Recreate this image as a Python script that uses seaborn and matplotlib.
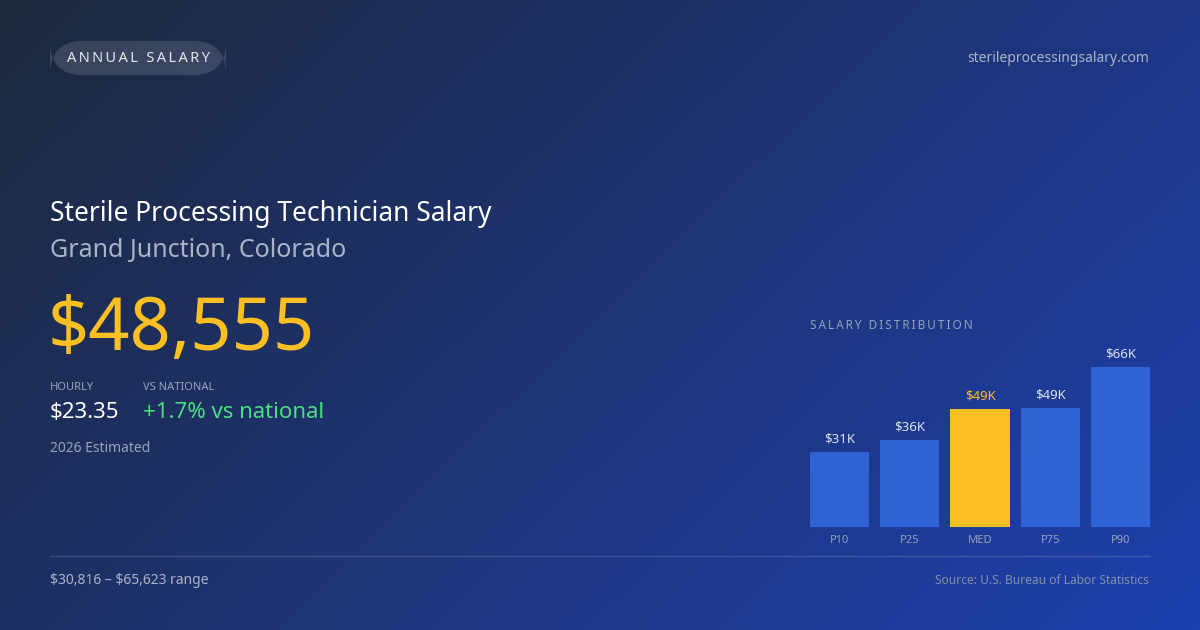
import matplotlib.pyplot as plt
import seaborn as sns
import numpy as np
import pandas as pd
from matplotlib.lines import Line2D
from matplotlib.patches import FancyBboxPatch

sns.set_style("white")
plt.rcParams['font.family'] = ['Noto Sans', 'DejaVu Sans']

# Datos
percentiles = ['P10', 'P25', 'MED', 'P75', 'P90']
salarios = [30816, 35700, 48555, 48800, 65623]
etiquetas = ['$31K', '$36K', '$49K', '$49K', '$66K']

W, H = 1200, 630
fig = plt.figure(figsize=(12, 6.3), dpi=100)

# Fondo degradado
bg = fig.add_axes([0, 0, 1, 1])
xx, yy = np.meshgrid(np.linspace(0, 1, 300), np.linspace(0, 1, 160))
t = np.clip(0.65 * xx + 0.35 * yy, 0, 1)
c0 = np.array([0x1d, 0x28, 0x3c]) / 255
c1 = np.array([0x1e, 0x40, 0xae]) / 255
img = c0[None, None, :] * (1 - t[..., None]) + c1[None, None, :] * t[..., None]
bg.imshow(img, aspect='auto', extent=[0, 1, 0, 1], origin='upper')
bg.axis('off')


def txt(x, y, s, **kw):
    fig.text(x / W, 1 - y / H, s, **kw)


def espaciado(s):
    return '\u2009'.join(s)


# Pastilla
fig.add_artist(FancyBboxPatch((50 / W, 1 - 75 / H), 176 / W, 34 / H,
                              boxstyle='round,pad=0,rounding_size=0.027',
                              transform=fig.transFigure, facecolor='#ffffff',
                              alpha=0.13, edgecolor='none', mutation_aspect=2))
txt(138, 58, espaciado('ANNUAL SALARY'), fontsize=10.5, color='#e2e8f0', va='center', ha='center')
txt(1149, 58, 'sterileprocessingsalary.com', fontsize=10, color='#aab4c6', ha='right', va='center')

txt(50, 214, 'Sterile Processing Technician Salary', fontsize=19, color='white', va='center')
txt(50, 251, 'Grand Junction, Colorado', fontsize=18, color='#aab4c6', va='center')
txt(48, 331, '$48,555', fontsize=52, color='#fbbf24', va='center')

txt(50, 388, 'HOURLY', fontsize=8, color='#94a3b8', va='center')
txt(143, 388, 'VS NATIONAL', fontsize=8, color='#94a3b8', va='center')
txt(50, 413, '$23.35', fontsize=16, color='white', va='center')
txt(143, 413, '+1.7% vs national', fontsize=16, color='#4ade80', va='center')
txt(50, 449, '2026 Estimated', fontsize=10, color='#94a3b8', va='center')

txt(810, 325, espaciado('SALARY DISTRIBUTION'), fontsize=8.5, color='#94a3b8', va='center')

# Barras
ax = fig.add_axes([810 / W, (H - 527) / H, 340 / W, 160 / H])
ax.patch.set_alpha(0)
df = pd.DataFrame({'p': percentiles, 's': salarios})
colores = ['#2f62d4', '#2f62d4', '#fbbf24', '#2f62d4', '#2f62d4']
sns.barplot(data=df, x='p', y='s', hue='p', palette=colores, width=0.84,
            legend=False, ax=ax, saturation=1, linewidth=0)
ax.set_xlim(-0.42, 4.42)
ax.set_ylim(0, max(salarios))
for i, (v, e) in enumerate(zip(salarios, etiquetas)):
    ax.text(i, v + 2500, e, ha='center', va='bottom', fontsize=9.5,
            color='#fbbf24' if i == 2 else '#dbe2ee')
ax.set_xticks(range(5))
ax.set_xticklabels(percentiles, fontsize=8, color='#94a3b8')
ax.tick_params(axis='x', length=0, pad=6)
ax.set_yticks([])
ax.set_xlabel('')
ax.set_ylabel('')
sns.despine(ax=ax, left=True, bottom=True)

fig.add_artist(Line2D([50 / W, 1150 / W], [1 - 556 / H] * 2, color='#ffffff', alpha=0.15, lw=1))
txt(50, 581, r'\$30,816 – \$65,623 range', fontsize=10, color='#aab4c6', va='center')
txt(1149, 581, 'Source: U.S. Bureau of Labor Statistics', fontsize=8.6, color='#8290a8', ha='right', va='center')

fig.savefig('out.png', dpi=100)
